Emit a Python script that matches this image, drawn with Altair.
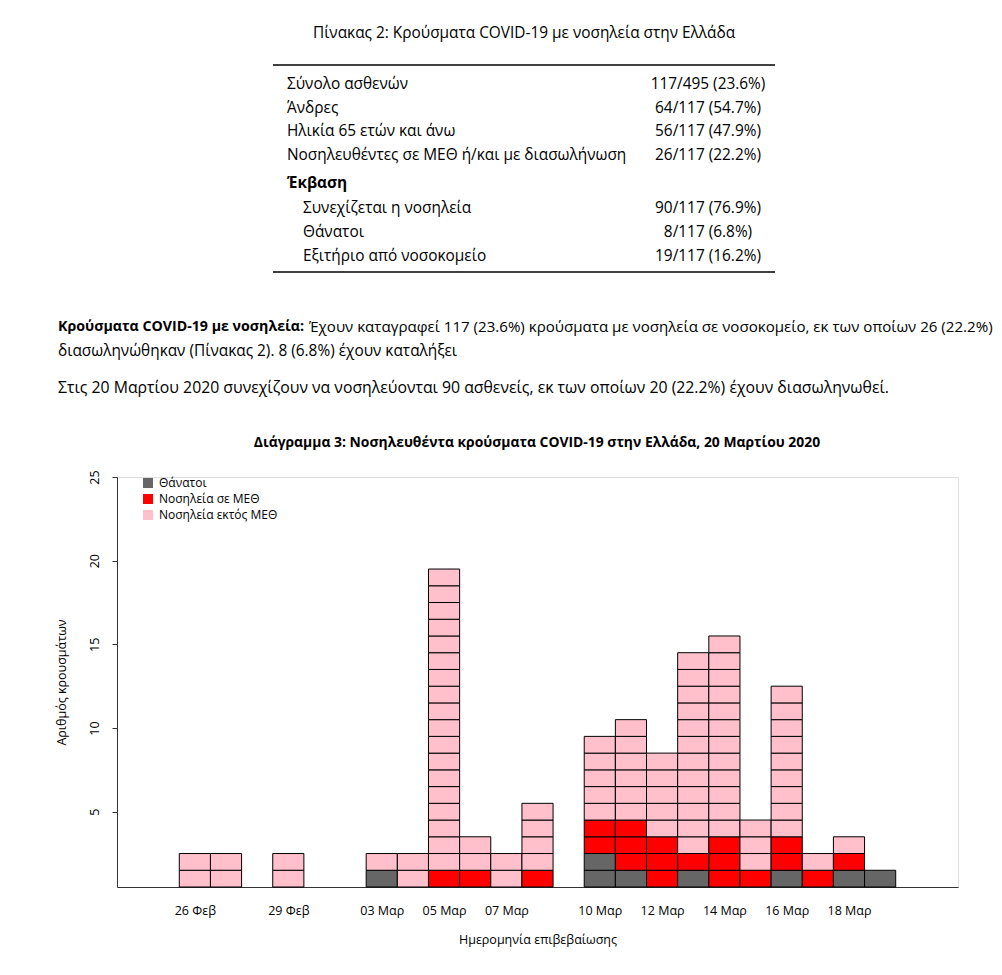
import json
from datetime import date

import altair as alt
import pandas as pd

# ---------------- data ----------------
dates = ["2020-02-26", "2020-02-27", "2020-02-29", "2020-03-03", "2020-03-04",
         "2020-03-05", "2020-03-06", "2020-03-07", "2020-03-08", "2020-03-10",
         "2020-03-11", "2020-03-12", "2020-03-13", "2020-03-14", "2020-03-15",
         "2020-03-16", "2020-03-17", "2020-03-18", "2020-03-19"]
deaths = [0, 0, 0, 1, 0, 0, 0, 0, 0, 2, 1, 0, 1, 0, 0, 1, 0, 1, 1]
icu = [0, 0, 0, 0, 0, 1, 1, 0, 1, 2, 3, 3, 1, 3, 1, 2, 1, 1, 0]
non_icu = [2, 2, 2, 1, 2, 18, 2, 2, 4, 5, 6, 5, 12, 12, 3, 9, 1, 1, 0]

categories = ["Θάνατοι", "Νοσηλεία σε ΜΕΘ", "Νοσηλεία εκτός ΜΕΘ"]
colors = ["#666666", "#ff0000", "#ffc0cb"]

tick_dates = ["2020-02-26", "2020-02-29", "2020-03-03", "2020-03-05", "2020-03-07",
              "2020-03-10", "2020-03-12", "2020-03-14", "2020-03-16", "2020-03-18"]
tick_labels = ["26 Φεβ", "29 Φεβ", "03 Μαρ", "05 Μαρ", "07 Μαρ",
               "10 Μαρ", "12 Μαρ", "14 Μαρ", "16 Μαρ", "18 Μαρ"]
y_ticks = [5, 10, 15, 20, 25]

table_title = "Πίνακας 2: Κρούσματα COVID-19 με νοσηλεία στην Ελλάδα"
table_labels = ["Σύνολο ασθενών", "Άνδρες", "Ηλικία 65 ετών και άνω",
                "Νοσηλευθέντες σε ΜΕΘ ή/και με διασωλήνωση"]
table_values = ["117/495 (23.6%)", "64/117 (54.7%)", "56/117 (47.9%)", "26/117 (22.2%)"]
outcome_head = "Έκβαση"
outcome_labels = ["Συνεχίζεται η νοσηλεία", "Θάνατοι", "Εξιτήριο από νοσοκομείο"]
outcome_values = ["90/117 (76.9%)", "8/117 (6.8%)", "19/117 (16.2%)"]

para_bold = "Κρούσματα COVID-19 με νοσηλεία:"
para_line1 = "Έχουν καταγραφεί 117 (23.6%) κρούσματα με νοσηλεία σε νοσοκομείο, εκ των οποίων 26 (22.2%)"
para_line2 = "διασωληνώθηκαν (Πίνακας 2). 8 (6.8%) έχουν καταλήξει"
para_line3 = "Στις 20 Μαρτίου 2020 συνεχίζουν να νοσηλεύονται 90 ασθενείς, εκ των οποίων 20 (22.2%) έχουν διασωληνωθεί."

chart_title = "Διάγραμμα 3: Νοσηλευθέντα κρούσματα COVID-19 στην Ελλάδα, 20 Μαρτίου 2020"
x_title = "Ημερομηνία επιβεβαίωσης"
y_title = "Αριθμός κρουσμάτων"

# ---------------- build squares ----------------
origin = date(2020, 2, 26)


def day_index(s):
    return (date.fromisoformat(s) - origin).days


rows = []
for d, a, b, c in zip(dates, deaths, icu, non_icu):
    i = day_index(d)
    k = 0
    for cat, n in zip(categories, (a, b, c)):
        for _ in range(n):
            k += 1
            rows.append({"x0": i - 0.5, "x1": i + 0.5, "y0": k - 0.5, "y1": k + 0.5, "cat": cat})
df = pd.DataFrame(rows)

tick_idx = [day_index(d) for d in tick_dates]
label_expr = "{}[indexof({}, datum.value)]".format(
    json.dumps(tick_labels, ensure_ascii=False), json.dumps(tick_idx))

FONT = "Open Sans"
AXIS_COLOR = "#333333"

bars = alt.Chart(df).mark_rect(stroke="black", strokeWidth=1).encode(
    x=alt.X("x0:Q",
            scale=alt.Scale(domain=[-2.5, 24.5], nice=False, zero=False),
            axis=alt.Axis(values=tick_idx, labelExpr=label_expr, ticks=False, tickSize=0,
                          grid=False, labelPadding=17, labelFontSize=12.5, labelFont=FONT,
                          labelColor="black", domainColor=AXIS_COLOR,
                          title=x_title, titleFont=FONT, titleFontSize=12.5,
                          titleFontWeight="normal", titlePadding=17, titleColor="black")),
    x2="x1",
    y=alt.Y("y0:Q",
            scale=alt.Scale(domain=[0.5, 25], nice=False, zero=False),
            axis=alt.Axis(values=y_ticks, grid=False, tickSize=5, tickColor=AXIS_COLOR,
                          domainColor=AXIS_COLOR, labelAngle=270, labelAlign="center",
                          labelBaseline="bottom", labelPadding=11, labelFontSize=12.5,
                          labelFont=FONT, labelColor="black",
                          title=y_title, titleFont=FONT, titleFontSize=12.5,
                          titleFontWeight="normal", titlePadding=20, titleColor="black")),
    y2="y1",
    color=alt.Color("cat:N", scale=alt.Scale(domain=categories, range=colors),
                    legend=alt.Legend(title=None, orient="none", legendX=25, legendY=0,
                                      symbolType="square", symbolSize=100,
                                      symbolStrokeWidth=0, symbolOpacity=1,
                                      labelFont=FONT, labelFontSize=12, labelOffset=5,
                                      rowPadding=4, padding=0, labelColor="black")),
)

one = pd.DataFrame({"k": [0]})


def txt(s, x, y, size, weight="normal", align="left"):
    return alt.Chart(one).mark_text(
        text=s, align=align, baseline="middle", fontSize=size, fontWeight=weight,
        font=FONT, color="black").encode(x=alt.value(x), y=alt.value(y))


def hrule(x1, x2, y, w):
    return alt.Chart(one).mark_rule(color="black", strokeWidth=w).encode(
        x=alt.value(x1), x2=alt.value(x2), y=alt.value(y))


# offsets: plot origin sits at page (117, 477)
OX, OY = 117, 477
layers = []
layers.append(txt(table_title, 524 - OX, 33 - OY, 15.4, align="center"))
layers.append(hrule(273 - OX, 775 - OX, 65 - OY, 1.6))
layers.append(hrule(273 - OX, 775 - OX, 272 - OY, 1.6))
row_y = [84, 108, 131, 155]
for lab, val, yy in zip(table_labels, table_values, row_y):
    layers.append(txt(lab, 287 - OX, yy - OY, 15.4))
    layers.append(txt(val, 708 - OX, yy - OY, 15.4, align="center"))
layers.append(txt(outcome_head, 287 - OX, 183 - OY, 15.4, weight="bold"))
out_y = [208, 232, 256]
for lab, val, yy in zip(outcome_labels, outcome_values, out_y):
    layers.append(txt(lab, 303 - OX, yy - OY, 15.4))
    layers.append(txt(val, 708 - OX, yy - OY, 15.4, align="center"))

layers.append(txt(para_bold, 58 - OX, 327 - OY, 14.2, weight="bold"))
layers.append(txt(para_line1, 309 - OX, 327 - OY, 15.1))
layers.append(txt(para_line2, 58 - OX, 351 - OY, 15.4))
layers.append(txt(para_line3, 58 - OX, 388 - OY, 15.8))
layers.append(txt(chart_title, 537 - OX, 443 - OY, 13.9, weight="bold", align="center"))

chart = alt.layer(bars, *layers).properties(
    width=841, height=410,
    autosize=alt.AutoSizeParams(type="none"),
    padding={"left": 109, "top": 469, "right": 36, "bottom": 70},
).configure_view(stroke=None).configure(background="white")

chart.save("out.html", embed_options={"renderer": "svg", "actions": False})
